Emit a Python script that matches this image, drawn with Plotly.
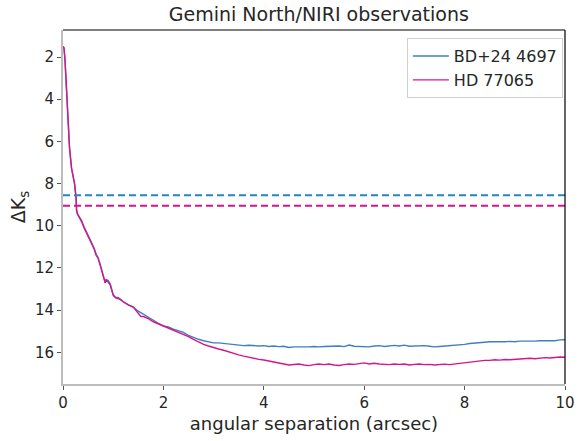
import plotly.graph_objects as go

# ---- data ----
sep_bd = [0.00, 0.02, 0.04, 0.07, 0.10, 0.13, 0.17, 0.20, 0.23, 0.26, 0.27, 0.29, 0.33, 0.37,
          0.42, 0.47, 0.53, 0.58, 0.62, 0.66, 0.70, 0.75, 0.80, 0.84, 0.86, 0.90, 0.94, 0.97,
          1.00, 1.05, 1.10, 1.15, 1.20, 1.30, 1.40, 1.50, 1.60, 1.70, 1.80, 1.90,
          2.00, 2.10, 2.20, 2.30, 2.40, 2.50, 2.60, 2.70, 2.80, 2.90,
          3.00, 3.10, 3.20, 3.30, 3.40, 3.50, 3.60, 3.70, 3.80, 3.90,
          4.00, 4.10, 4.20, 4.30, 4.40, 4.50, 4.60, 4.70, 4.80, 4.90,
          5.00, 5.10, 5.20, 5.30, 5.40, 5.50, 5.60, 5.70, 5.80, 5.90,
          6.00, 6.10, 6.20, 6.30, 6.40, 6.50, 6.60, 6.70, 6.80, 6.90,
          7.00, 7.10, 7.20, 7.30, 7.40, 7.50, 7.60, 7.70, 7.80, 7.90,
          8.00, 8.10, 8.20, 8.30, 8.40, 8.50, 8.60, 8.70, 8.80, 8.90,
          9.00, 9.10, 9.20, 9.30, 9.40, 9.50, 9.60, 9.70, 9.80, 9.90, 10.00]
dk_bd = [1.50, 1.60, 2.20, 3.60, 5.20, 6.30, 7.30, 7.60, 8.00, 8.70, 9.20, 9.45, 9.60, 9.75,
         10.05, 10.30, 10.60, 10.90, 11.05, 11.35, 11.50, 11.90, 12.30, 12.70, 12.55, 12.60, 12.75, 13.00,
         13.25, 13.40, 13.40, 13.50, 13.60, 13.75, 13.85, 14.05, 14.20, 14.35, 14.50, 14.62,
         14.75, 14.80, 14.90, 14.98, 15.05, 15.20, 15.30, 15.38, 15.45, 15.50,
         15.55, 15.55, 15.58, 15.60, 15.62, 15.64, 15.68, 15.66, 15.68, 15.70,
         15.68, 15.72, 15.70, 15.73, 15.71, 15.77, 15.74, 15.75, 15.73, 15.74,
         15.72, 15.74, 15.72, 15.71, 15.73, 15.70, 15.73, 15.65, 15.71, 15.72,
         15.70, 15.74, 15.70, 15.68, 15.72, 15.69, 15.67, 15.70, 15.66, 15.71,
         15.69, 15.70, 15.68, 15.71, 15.74, 15.72, 15.70, 15.71, 15.68, 15.66,
         15.62, 15.58, 15.55, 15.52, 15.52, 15.50, 15.51, 15.49, 15.50, 15.48,
         15.50, 15.47, 15.48, 15.46, 15.47, 15.45, 15.46, 15.44, 15.45, 15.41, 15.40]

sep_hd = [0.00, 0.02, 0.04, 0.07, 0.10, 0.13, 0.17, 0.20, 0.23, 0.26, 0.27, 0.29, 0.33, 0.37,
          0.42, 0.47, 0.53, 0.58, 0.62, 0.66, 0.70, 0.75, 0.80, 0.84, 0.86, 0.90, 0.94, 0.97,
          1.00, 1.05, 1.10, 1.15, 1.20, 1.30, 1.40, 1.50, 1.55, 1.60, 1.70, 1.80, 1.90,
          2.00, 2.10, 2.20, 2.30, 2.40, 2.50, 2.60, 2.70, 2.80, 2.90,
          3.00, 3.10, 3.20, 3.30, 3.40, 3.50, 3.60, 3.70, 3.80, 3.90,
          4.00, 4.10, 4.20, 4.30, 4.40, 4.50, 4.60, 4.70, 4.80, 4.90,
          5.00, 5.10, 5.20, 5.30, 5.40, 5.50, 5.60, 5.70, 5.80, 5.90,
          6.00, 6.10, 6.20, 6.30, 6.40, 6.50, 6.60, 6.70, 6.80, 6.90,
          7.00, 7.10, 7.20, 7.30, 7.40, 7.50, 7.60, 7.70, 7.80, 7.90,
          8.00, 8.10, 8.20, 8.30, 8.40, 8.50, 8.60, 8.70, 8.80, 8.90,
          9.00, 9.10, 9.20, 9.30, 9.40, 9.50, 9.60, 9.70, 9.80, 9.90, 10.00]
dk_hd = [1.50, 1.55, 2.10, 3.50, 5.10, 6.30, 7.25, 7.60, 8.00, 8.65, 9.30, 9.45, 9.60, 9.80,
         10.10, 10.35, 10.65, 10.95, 11.10, 11.40, 11.55, 11.95, 12.35, 12.70, 12.55, 12.65, 12.80, 13.05,
         13.30, 13.42, 13.45, 13.50, 13.60, 13.75, 13.85, 14.15, 14.30, 14.30, 14.40, 14.55, 14.65,
         14.72, 14.82, 14.92, 15.02, 15.12, 15.25, 15.38, 15.52, 15.62, 15.70,
         15.78, 15.84, 15.90, 15.98, 16.05, 16.12, 16.18, 16.24, 16.30, 16.33,
         16.36, 16.40, 16.44, 16.48, 16.55, 16.60, 16.56, 16.55, 16.60, 16.63,
         16.58, 16.55, 16.58, 16.55, 16.60, 16.62, 16.58, 16.55, 16.57, 16.53,
         16.50, 16.55, 16.52, 16.55, 16.56, 16.58, 16.55, 16.57, 16.55, 16.60,
         16.57, 16.55, 16.58, 16.57, 16.60, 16.58, 16.56, 16.58, 16.55, 16.55,
         16.52, 16.48, 16.45, 16.40, 16.38, 16.38, 16.35, 16.37, 16.34, 16.35,
         16.33, 16.32, 16.30, 16.28, 16.30, 16.27, 16.25, 16.27, 16.24, 16.22, 16.23]

limit_bd = 8.55
limit_hd = 9.05
x_span = [0, 10]

names = ["BD+24 4697", "HD 77065"]
x_ticks = [0, 2, 4, 6, 8, 10]
y_ticks = [2, 4, 6, 8, 10, 12, 14, 16]

BLUE = "#3f7fbf"
BLUE_DASH = "#2287c0"
PINK = "#d4168c"
FONT = "DejaVu Sans"
TXT = "#262626"

fig = go.Figure()
fig.add_trace(go.Scatter(x=sep_bd, y=dk_bd, mode="lines", name=names[0],
                         line=dict(color=BLUE, width=1.4)))
fig.add_trace(go.Scatter(x=sep_hd, y=dk_hd, mode="lines", name=names[1],
                         line=dict(color=PINK, width=1.4)))
fig.add_trace(go.Scatter(x=x_span, y=[limit_bd, limit_bd], mode="lines", showlegend=False,
                         line=dict(color=BLUE_DASH, width=2, dash="7px,4px")))
fig.add_trace(go.Scatter(x=x_span, y=[limit_hd, limit_hd], mode="lines", showlegend=False,
                         line=dict(color=PINK, width=2, dash="7px,4px")))

# top and right spines in black (left/bottom are grey)
fig.add_shape(type="line", xref="paper", yref="paper", x0=0, x1=1, y0=1, y1=1,
              line=dict(color="black", width=1.2))
fig.add_shape(type="line", xref="paper", yref="paper", x0=1, x1=1, y0=0, y1=1,
              line=dict(color="black", width=1.2))

fig.update_layout(
    width=585, height=441,
    margin=dict(l=63, r=10, t=30, b=56),
    paper_bgcolor="white", plot_bgcolor="white",
    font=dict(family=FONT, size=15, color=TXT),
    title=dict(text="Gemini North/NIRI observations", x=0.545, xanchor="center",
               y=0.968, yanchor="middle", font=dict(size=19, color=TXT)),
    showlegend=True,
    legend=dict(x=0.685, y=0.977, xanchor="left", yanchor="top",
                bgcolor="white", bordercolor="#d0d0d0", borderwidth=1,
                font=dict(size=16, color=TXT), tracegroupgap=0, itemwidth=36),
    xaxis=dict(range=[0, 10], tickvals=x_ticks, showgrid=False, zeroline=False,
               showline=True, linecolor="#bdbdbd", linewidth=2,
               ticks="outside", ticklen=4, tickcolor="#555555",
               title=dict(text="angular separation (arcsec)", font=dict(size=18), standoff=6),
               tickfont=dict(size=15)),
    yaxis=dict(range=[17.5, 0.72], tickvals=y_ticks, showgrid=False, zeroline=False,
               showline=True, linecolor="#bdbdbd", linewidth=2,
               ticks="outside", ticklen=4, tickcolor="#555555",
               title=dict(text="ΔK<sub>s</sub>", font=dict(size=19), standoff=4),
               tickfont=dict(size=15)),
)

fig.write_html("out.html")
